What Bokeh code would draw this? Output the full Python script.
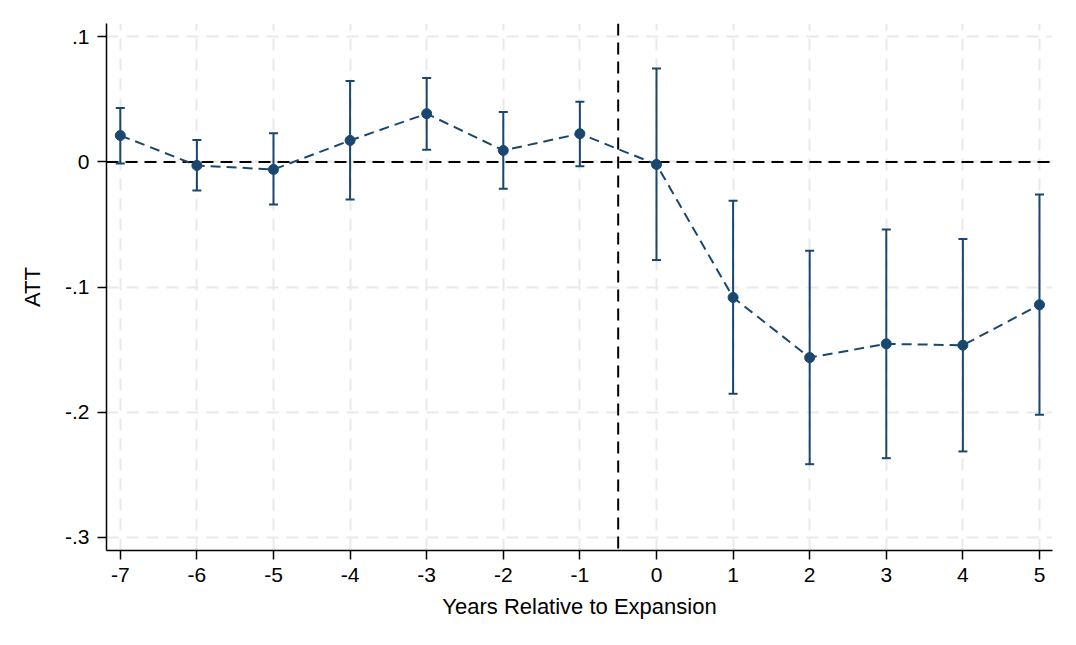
from bokeh.plotting import figure
from bokeh.models import ColumnDataSource, Span, Whisker, TeeHead, FixedTicker, Range1d
from bokeh.embed import file_html
from bokeh.resources import INLINE

# Event-study estimates
years = [-7, -6, -5, -4, -3, -2, -1, 0, 1, 2, 3, 4, 5]
att = [0.0212, -0.0028, -0.0060, 0.0172, 0.0386, 0.0092, 0.0226, -0.0020,
       -0.1083, -0.1564, -0.1454, -0.1465, -0.1142]
ci_upper = [0.0431, 0.0175, 0.0230, 0.0647, 0.0671, 0.0400, 0.0482, 0.0747,
            -0.0310, -0.0710, -0.0540, -0.0615, -0.0260]
ci_lower = [-0.0012, -0.0228, -0.0340, -0.0300, 0.0098, -0.0215, -0.0034, -0.0784,
            -0.1853, -0.2416, -0.2368, -0.2314, -0.2021]

y_ticks = [0.1, 0.0, -0.1, -0.2, -0.3]
y_tick_labels = [".1", "0", "-.1", "-.2", "-.3"]
x_label = "Years Relative to Expansion"
y_label = "ATT"
event_line = -0.5

NAVY = "#1a476f"
FONT = "Liberation Sans"

src = ColumnDataSource(dict(x=years, y=att, upper=ci_upper, lower=ci_lower))

p = figure(width=1068, height=637, frame_width=946, frame_height=527,
           min_border_left=106, min_border_right=16, min_border_top=23, min_border_bottom=87,
           output_backend="svg", toolbar_location=None,
           x_range=Range1d(-7.18, 5.17), y_range=Range1d(-0.3106, 0.1107))
p.outline_line_color = None
p.background_fill_color = "white"
p.border_fill_color = "white"

# grid
for g in (p.xgrid, p.ygrid):
    g.grid_line_color = "#e9e9e9"
    g.grid_line_width = 2
    g.grid_line_dash = "12 8"
p.xaxis.ticker = FixedTicker(ticks=years)
p.yaxis.ticker = FixedTicker(ticks=y_ticks)
p.yaxis.major_label_overrides = {t: l for t, l in zip(y_ticks, y_tick_labels)}
p.xaxis.major_label_overrides = {t: str(t) for t in years}

for ax in (p.xaxis, p.yaxis):
    ax.axis_line_color = "black"
    ax.axis_line_width = 1.5
    ax.major_tick_line_color = "black"
    ax.major_tick_line_width = 1.5
    ax.major_tick_out = 9
    ax.major_tick_in = 0
    ax.minor_tick_line_color = None
    ax.major_label_text_font = FONT
    ax.major_label_text_font_size = "21px"
    ax.major_label_text_color = "black"
    ax.axis_label_text_font = FONT
    ax.axis_label_text_font_size = "22px"
    ax.axis_label_text_font_style = "normal"
    ax.axis_label_text_color = "black"

p.xaxis.axis_label = x_label
p.yaxis.axis_label = y_label
p.xaxis.major_label_standoff = 8
p.xaxis.axis_label_standoff = 9
p.yaxis.major_label_standoff = 8
p.yaxis.axis_label_standoff = 17
p.yaxis.major_label_orientation = "horizontal"

# reference lines
p.add_layout(Span(location=0, dimension="width", line_color="black",
                  line_width=2, line_dash="12 7", level="underlay"))
p.add_layout(Span(location=event_line, dimension="height", line_color="black",
                  line_width=2, line_dash="12 7", level="underlay"))

# confidence intervals
w = Whisker(source=src, base="x", upper="upper", lower="lower",
            line_color=NAVY, line_width=2,
            upper_head=TeeHead(size=9, line_color=NAVY, line_width=2),
            lower_head=TeeHead(size=9, line_color=NAVY, line_width=2))
p.add_layout(w)

# point estimates connected
p.line("x", "y", source=src, line_color=NAVY, line_width=2, line_dash="10 6")
p.scatter("x", "y", source=src, size=10, fill_color=NAVY, line_color=NAVY)

open("out.html", "w").write(file_html(p, INLINE))
